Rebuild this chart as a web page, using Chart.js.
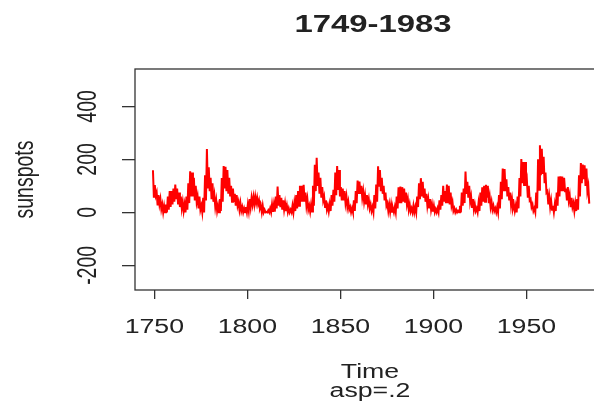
<!DOCTYPE html>
<html>
<head>
<meta charset="utf-8">
<script src="https://cdn.jsdelivr.net/npm/chart.js@4"></script>
<style>
  html, body { margin: 0; padding: 0; overflow: hidden; background: #fff; }
</style>
</head>
<body>
<canvas id="myChart" width="620" height="405"></canvas>
<script>
var startYear = 1749;

var monthlyHigh = [
  159, 103, 75, 65, 50, 30, 24, 30, 60, 80,      // 1749-1758
  80, 90, 105, 90, 75, 60, 40, 30, 60, 110,      // 1759-1768
  155, 150, 130, 100, 60, 60, 25, 55, 140, 239,  // 1769-1778
  170, 130, 110, 65, 45, 25, 50, 130, 175, 172,  // 1779-1788
  160, 130, 100, 90, 70, 65, 40, 35, 20, 15,     // 1789-1798
  20, 30, 50, 55, 58, 60, 55, 45, 25, 25,        // 1799-1808
  10, 2, 8, 15, 30, 30, 60, 97, 65, 55,          // 1809-1818
  45, 35, 25, 15, 10, 25, 35, 65, 80, 100,       // 1819-1828
  100, 104, 75, 50, 25, 30, 100, 180, 206, 150,  // 1829-1838
  130, 95, 60, 45, 25, 30, 65, 85, 150, 175,     // 1839-1848
  160, 95, 90, 80, 60, 40, 20, 15, 45, 80,       // 1849-1858
  120, 116, 100, 80, 65, 65, 50, 30, 20, 65,     // 1859-1868
  105, 174, 160, 130, 100, 75, 35, 30, 30, 15,   // 1869-1878
  20, 60, 95, 97, 95, 90, 75, 50, 30, 15,        // 1879-1888
  25, 20, 60, 110, 129, 115, 90, 70, 50, 50,     // 1889-1898
  30, 25, 12, 15, 45, 65, 100, 80, 105, 100,     // 1899-1908
  75, 40, 15, 10, 6, 25, 75, 90, 154, 115,       // 1909-1918
  100, 60, 50, 30, 15, 35, 75, 95, 100, 104,     // 1919-1928
  100, 60, 40, 25, 15, 20, 65, 115, 165, 163,    // 1929-1938
  125, 95, 75, 50, 30, 25, 60, 130, 201, 190,    // 1939-1948
  190, 120, 100, 50, 30, 15, 75, 200, 253, 240,  // 1949-1958
  210, 150, 80, 60, 45, 25, 30, 75, 135, 136,    // 1959-1968
  135, 130, 90, 95, 65, 55, 35, 35, 50, 140,     // 1969-1978
  186, 180, 178, 165, 100                        // 1979-1983
];

var monthlyLow = [
  55, 63, 26, 30, 12, 0, 0, 0, 10, 20,           // 1749-1758
  30, 40, 50, 30, 20, 15, 5, 0, 10, 35,          // 1759-1768
  60, 60, 45, 40, 15, 10, 0, 0, 45, 90,          // 1769-1778
  80, 50, 40, 20, 5, 0, 5, 40, 90, 80,           // 1779-1788
  70, 60, 40, 40, 25, 25, 10, 5, 0, 0,           // 1789-1798
  0, 5, 20, 30, 30, 35, 30, 15, 0, 0,            // 1799-1808
  0, 0, 0, 0, 2, 3, 15, 25, 20, 10,              // 1809-1818
  10, 5, 0, 0, 0, 0, 5, 15, 25, 40,              // 1819-1828
  40, 40, 25, 10, 2, 3, 25, 80, 100, 70,         // 1829-1838
  55, 45, 20, 10, 3, 5, 25, 40, 65, 85,          // 1839-1848
  60, 45, 45, 35, 20, 10, 0, 0, 5, 35,           // 1849-1858
  70, 70, 55, 40, 30, 30, 15, 5, 0, 15,          // 1859-1868
  40, 100, 80, 70, 45, 25, 5, 2, 2, 0,           // 1869-1878
  0, 15, 35, 35, 40, 40, 30, 10, 3, 0,           // 1879-1888
  0, 0, 20, 50, 60, 55, 40, 25, 15, 10,          // 1889-1898
  3, 0, 0, 0, 10, 25, 40, 35, 35, 30,            // 1899-1908
  25, 5, 0, 0, 0, 0, 25, 35, 70, 55,             // 1909-1918
  40, 20, 10, 5, 0, 5, 25, 40, 40, 55,           // 1919-1928
  35, 20, 10, 5, 0, 0, 15, 50, 80, 80,           // 1929-1938
  60, 45, 25, 15, 5, 0, 15, 60, 110, 100,        // 1939-1948
  100, 55, 45, 20, 5, 0, 15, 85, 140, 145,       // 1949-1958
  110, 75, 30, 20, 10, 0, 5, 25, 60, 80,         // 1959-1968
  80, 80, 45, 45, 20, 20, 5, 5, 10, 60,          // 1969-1978
  110, 125, 100, 80, 33                          // 1979-1983
];

var xTicks = [1750, 1800, 1850, 1900, 1950];
var yTicks = [-200, 0, 200, 400];

var titleText = '1749-1983';
var xTitle = 'Time';
var subTitle = 'asp=.2';
var yTitle = 'sunspots';

// the reference image is stretched sideways, so text is too
var STRETCH = 1.37;
var ink = '#222';
var fontFamily = '"Liberation Sans", Arial, sans-serif';

// one zigzag point for the high and one for the low of each year
var points = [];
for (var i = 0; i < monthlyHigh.length; i++) {
  points.push({ x: startYear + i + 0.25, y: monthlyHigh[i] });
  points.push({ x: startYear + i + 0.75, y: monthlyLow[i] });
}

function stretchedText(ctx, text, x, y, font, rot) {
  ctx.save();
  ctx.translate(x, y);
  ctx.scale(STRETCH, 1);
  if (rot) ctx.rotate(rot);
  ctx.font = font;
  ctx.textAlign = 'center';
  ctx.textBaseline = 'alphabetic';
  ctx.fillStyle = ink;
  ctx.fillText(text, 0, 0);
  ctx.restore();
}

var rPlotText = {
  id: 'rPlotText',
  afterDraw: function(chart) {
    var ctx = chart.ctx;
    var area = chart.chartArea;
    var xs = chart.scales.x;
    var ys = chart.scales.y;
    var mid = (area.left + area.right) / 2;

    // box round the plot
    ctx.save();
    ctx.strokeStyle = '#333';
    ctx.lineWidth = 1.3;
    ctx.strokeRect(area.left, area.top, area.right - area.left, area.bottom - area.top);
    ctx.restore();

    var tickFont = '19.5px ' + fontFamily;
    xs.ticks.forEach(function(t) {
      stretchedText(ctx, String(t.value), xs.getPixelForValue(t.value), 333, tickFont);
    });
    ys.ticks.forEach(function(t) {
      stretchedText(ctx, String(t.value), 96, ys.getPixelForValue(t.value), tickFont, -Math.PI / 2);
    });

    stretchedText(ctx, titleText, mid + 2, 32, 'bold 24px ' + fontFamily);
    stretchedText(ctx, xTitle, mid - 1, 378, tickFont);
    stretchedText(ctx, subTitle, mid - 1, 397, tickFont);
    stretchedText(ctx, yTitle, 33, (area.top + area.bottom) / 2, tickFont, -Math.PI / 2);
  }
};

var ctx = document.getElementById('myChart').getContext('2d');

new Chart(ctx, {
  type: 'line',
  data: {
    datasets: [{
      data: points,
      borderColor: '#ff0000',
      borderWidth: 2,
      pointRadius: 0,
      tension: 0,
      fill: false
    }]
  },
  options: {
    responsive: false,
    animation: false,
    events: [],
    layout: { padding: { left: 122, top: 69, right: 13, bottom: 106 } },
    plugins: {
      legend: { display: false },
      title: { display: false },
      tooltip: { enabled: false }
    },
    scales: {
      x: {
        type: 'linear',
        min: 1739.6,
        max: 1993.3,
        afterBuildTicks: function(scale) {
          scale.ticks = xTicks.map(function(v) { return { value: v }; });
        },
        ticks: { display: false },
        grid: { drawOnChartArea: false, tickLength: 9, color: '#333', lineWidth: 1.3 },
        border: { display: false }
      },
      y: {
        type: 'linear',
        min: -293,
        max: 541,
        afterBuildTicks: function(scale) {
          scale.ticks = yTicks.map(function(v) { return { value: v }; });
        },
        ticks: { display: false },
        grid: { drawOnChartArea: false, tickLength: 13, color: '#333', lineWidth: 1.3 },
        border: { display: false }
      }
    }
  },
  plugins: [rPlotText]
});
</script>
</body>
</html>
